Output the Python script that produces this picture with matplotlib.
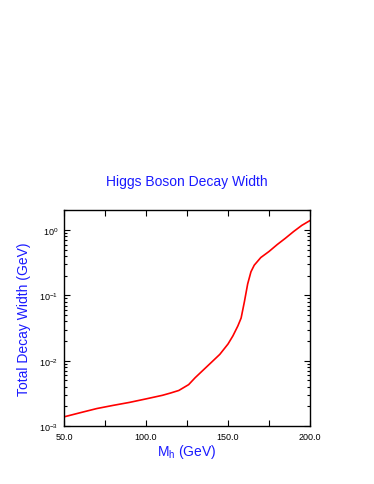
import matplotlib
matplotlib.use("Agg")
import matplotlib.pyplot as plt
from matplotlib.ticker import LogLocator, MultipleLocator, FixedLocator, FixedFormatter

plt.rcParams['font.family'] = ['Liberation Sans', 'DejaVu Sans']
plt.rcParams['mathtext.fontset'] = 'custom'
plt.rcParams['mathtext.rm'] = 'Liberation Sans'
plt.rcParams['mathtext.it'] = 'Liberation Sans'

mass = [50, 60, 70, 80, 90, 100, 110, 115, 120, 126, 130, 140, 145, 150, 153,
        156, 158, 160, 162, 164, 166, 170, 175, 180, 185, 190, 195, 200]
width = [0.00138, 0.00160, 0.00185, 0.00207, 0.00230, 0.00260, 0.00295, 0.0032,
         0.0035, 0.0043, 0.0055, 0.0095, 0.0125, 0.018, 0.024, 0.034, 0.045,
         0.08, 0.15, 0.23, 0.29, 0.38, 0.47, 0.60, 0.75, 0.95, 1.18, 1.40]

xticks = [50, 100, 150, 200]
xticklabels = ['50.0', '100.0', '150.0', '200.0']
yticks = [1e-3, 1e-2, 1e-1, 1e0]
yticklabels = ['10$^{-3}$', '10$^{-2}$', '10$^{-1}$', '10$^{0}$']

fig = plt.figure(figsize=(3.74, 4.85), dpi=100)
ax = fig.add_axes([64/374, 58/485, 246/374, 216/485])
ax.plot(mass, width, color='#ff0000', lw=1.2)
ax.set_yscale('log')
ax.set_xlim(50, 200)
ax.set_ylim(1e-3, 2.03)

ax.xaxis.set_major_locator(FixedLocator(xticks))
ax.xaxis.set_major_formatter(FixedFormatter(xticklabels))
ax.xaxis.set_minor_locator(MultipleLocator(25))
ax.yaxis.set_major_locator(FixedLocator(yticks))
ax.yaxis.set_major_formatter(FixedFormatter(yticklabels))
ax.yaxis.set_minor_locator(LogLocator(base=10, subs=range(2, 10)))

ax.tick_params(which='both', direction='in', top=True, right=True, labelsize=6.5, pad=4, width=0.8)
ax.tick_params(which='major', length=4)
ax.tick_params(which='minor', length=2)
ax.tick_params(axis='x', which='minor', length=4)
for s in ax.spines.values():
    s.set_linewidth(1.0)

ax.set_xlabel('M$_{\\mathrm{h}}$ (GeV)', color='#1a1aff', fontsize=10, labelpad=1)
ax.set_ylabel('Total Decay Width (GeV)', color='#1a1aff', fontsize=10, labelpad=6)
fig.text(187/374, 1 - 182/485, 'Higgs Boson Decay Width', color='#1a1aff',
         fontsize=10, ha='center', va='center')

fig.savefig('out.png', dpi=100)
